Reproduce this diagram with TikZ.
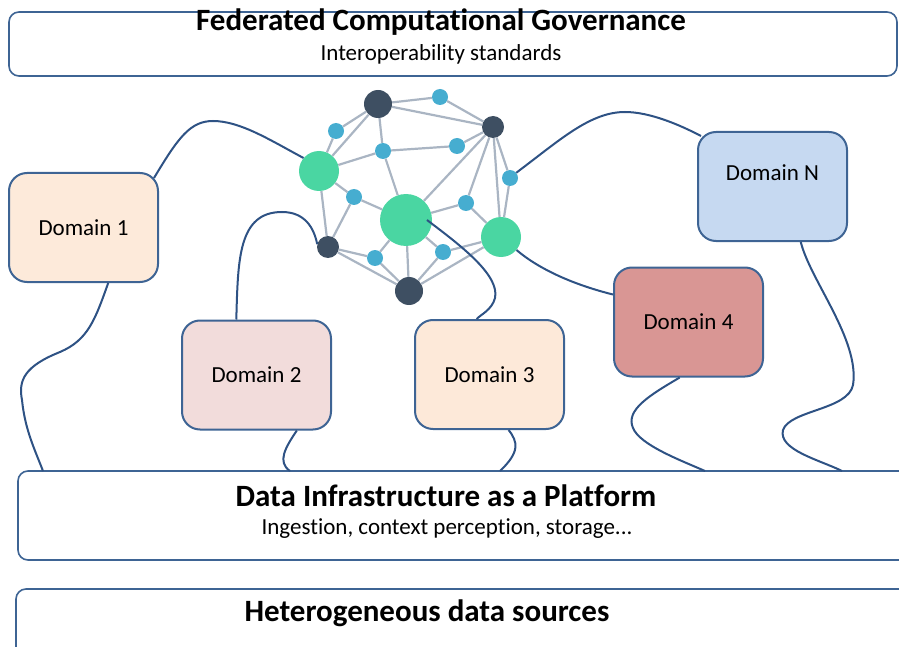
\documentclass[tikz,border=0pt]{standalone}
\usepackage{fontspec}
\setmainfont{Carlito}[Ligatures=NoCommon]
\usepackage{tikz}
\usetikzlibrary{positioning, calc}
\definecolor{boxblue}{RGB}{62,100,148}
\definecolor{linkblue}{RGB}{46,82,132}
\definecolor{dom1fill}{RGB}{253,234,218}
\definecolor{dom2fill}{RGB}{242,220,219}
\definecolor{dom3fill}{RGB}{253,233,217}
\definecolor{dom4fill}{RGB}{217,150,148}
\definecolor{domNfill}{RGB}{198,217,241}
\definecolor{hubdark}{RGB}{62,79,98}
\definecolor{hubgreen}{RGB}{74,214,162}
\definecolor{hubblue}{RGB}{70,173,208}
\definecolor{edgegray}{RGB}{170,181,195}
\tikzset{
  layer/.style={draw=boxblue, line width=1.6pt, rounded corners=10pt, fill=white, inner sep=0pt},
  dombox/.style={draw=boxblue, line width=2pt, rounded corners=18pt, minimum width=149pt,
    minimum height=109pt, inner sep=0pt, font=\fontsize{23}{27}\selectfont},
  headtext/.style={font=\fontsize{31}{36}\selectfont\bfseries},
  subtext/.style={font=\fontsize{23}{27}\selectfont},
  meshdark/.style={circle, fill=hubdark, inner sep=0pt},
  meshgreen/.style={circle, fill=hubgreen, inner sep=0pt, minimum size=40pt},
  meshblue/.style={circle, fill=hubblue, inner sep=0pt, minimum size=16pt},
  meshedge/.style={draw=edgegray, line width=2.2pt},
  link/.style={draw=linkblue, line width=2pt}
}

\begin{document}
\begin{tikzpicture}[x=1pt, y=-1pt]
  \useasboundingbox (0,0) rectangle (899,647);
  \clip (0,0) rectangle (899,647);

  % layers
  \node[layer, minimum width=888pt, minimum height=64pt] (gov) at (453,44) {};
  \node[headtext] (govtitle) at (441,22) {Federated Computational Governance};
  \node[subtext] (govsub) at (441,54) {Interoperability standards};

  \node[layer, minimum width=897pt, minimum height=89pt] (infra) at (466.5,515.5) {};
  \node[headtext] (infratitle) at (446,496) {Data Infrastructure as a Platform};
  \node[subtext] (infrasub) at (447,529) {Ingestion, context perception, storage...};

  \node[layer, minimum width=899pt, minimum height=81pt] (sources) at (465.5,629.5) {};
  \node[headtext] (sourcestitle) at (427,613) {Heterogeneous data sources};

  % domains
  \node[dombox, fill=dom1fill] (dom1) at (83.5,227.5) {Domain 1};
  \node[dombox, fill=dom2fill] (dom2) at (256.5,375) {Domain 2};
  \node[dombox, fill=dom3fill] (dom3) at (489.5,374.5) {Domain 3};
  \node[dombox, fill=dom4fill] (dom4) at (688.5,322) {Domain 4};
  \node[dombox, fill=domNfill, text depth=28pt] (domN) at (772.5,186.5) {Domain N};

  % governance mesh
  \node[meshdark, minimum size=28pt] (h1) at (378,104) {};
  \node[meshdark, minimum size=22pt] (h2) at (493,127) {};
  \node[meshdark, minimum size=22pt] (h3) at (328,247) {};
  \node[meshdark, minimum size=28pt] (h4) at (409,291) {};
  \node[meshgreen] (g1) at (319,171) {};
  \node[meshgreen, minimum size=52pt] (g2) at (406,220) {};
  \node[meshgreen] (g3) at (501,237) {};
  \node[meshblue] (s1) at (440,97) {};
  \node[meshblue] (s2) at (336,131) {};
  \node[meshblue] (s3) at (383,151) {};
  \node[meshblue] (s4) at (457,146) {};
  \node[meshblue] (s5) at (510,178) {};
  \node[meshblue] (s6) at (354,197) {};
  \node[meshblue] (s7) at (466,203) {};
  \node[meshblue] (s8) at (375,258) {};
  \node[meshblue] (s9) at (443,252) {};

  \draw[meshedge] (h1) -- (s1) (h1) -- (h2) (s1) -- (h2) (h1) -- (s2) (h1) -- (g1) (h1) -- (s3)
    (s2) -- (g1) (g1) -- (s3) (s3) -- (s4) (s4) -- (h2) (s3) -- (g2)
    (h2) -- (g2) (h2) -- (s7) (h2) -- (g3) (h2) -- (s5) (s5) -- (g3)
    (g1) -- (s6) (g1) -- (h3) (s6) -- (h3) (s6) -- (g2) (g2) -- (s7) (s7) -- (g3)
    (h3) -- (s8) (h3) -- (h4) (s8) -- (g2) (s8) -- (h4) (g2) -- (h4)
    (g2) -- (s9) (s9) -- (g3) (s9) -- (h4) (g3) -- (h4);

  % links down to the platform
  \coordinate (p1) at (43,471);
  \coordinate (p2) at (290,471);
  \coordinate (p3) at (500,471);
  \coordinate (p4) at (705,471);
  \coordinate (p5) at (842,471);

  \draw[link] ([xshift=-5pt, yshift=-6pt]dom1.north east) .. controls (178,138) and (190,121) .. (213,121)
    .. controls (240,121) and (270,140) .. (g1.140);
  \draw[link] (dom1.-66) .. controls (95,320) and (88,340) .. (60,352)
    .. controls (25,366) and (18,380) .. (22,400) .. controls (25,430) and (35,450) .. (p1);
  \draw[link] (dom2.110) .. controls (238,260) and (238,212) .. (282,212)
    .. controls (305,212) and (314,228) .. (h3.165);
  \draw[link] (dom2.-54) .. controls (285,448) and (277,462) .. (p2);
  \draw[link] ($(g2.center)!0.8!(g2.east)$) .. controls (460,245) and (500,275) .. (495,298)
    .. controls (492,310) and (480,315) .. (dom3.103);
  \draw[link] (dom3.-71) .. controls (518,442) and (520,452) .. (p3);
  \draw[link] (g3.-40) .. controls (540,270) and (575,285) .. (dom4.160);
  \draw[link] (dom4.-99) .. controls (650,395) and (625,410) .. (633,428)
    .. controls (640,445) and (680,460) .. (p4);
  \draw[link] (domN.-63) .. controls (810,280) and (860,340) .. (853,385)
    .. controls (848,410) and (790,410) .. (783,430) .. controls (778,450) and (820,460) .. (p5);
  \draw[link] (s5.40) .. controls (560,140) and (590,112) .. (625,112)
    .. controls (650,112) and (680,125) .. ([xshift=4pt, yshift=-5pt]domN.north west);
\end{tikzpicture}
\end{document}
